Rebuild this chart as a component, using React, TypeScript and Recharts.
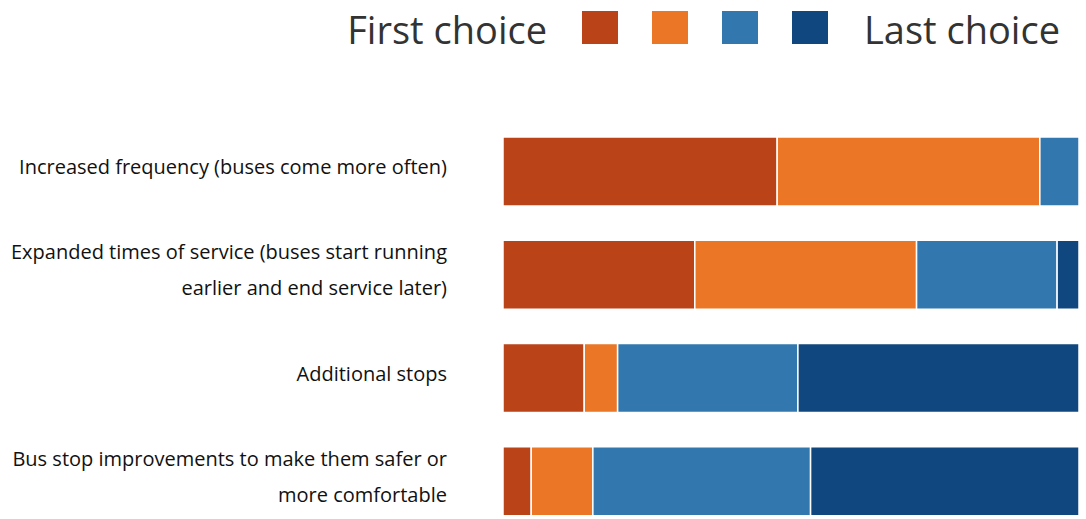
import React from "react";
import { BarChart, Bar, XAxis, YAxis, Legend } from "recharts";

const categories = [
  "Increased frequency (buses come more often)",
  "Expanded times of service (buses start running\nearlier and end service later)",
  "Additional stops",
  "Bus stop improvements to make them safer or\nmore comfortable",
];
const firstChoice = [47.6, 33.3, 14.1, 4.9];
const secondChoice = [45.6, 38.5, 5.8, 10.7];
const thirdChoice = [6.8, 24.4, 31.3, 37.8];
const lastChoice = [0, 3.8, 48.8, 46.6];

const seriesKeys = ["c1", "c2", "c3", "c4"];
const seriesColors = ["#BB4318", "#EA7626", "#3278AE", "#10477E"];
const legendStart = "First choice";
const legendEnd = "Last choice";

const data = categories.map((name, i) => ({
  name,
  c1: firstChoice[i],
  c2: secondChoice[i],
  c3: thirdChoice[i],
  c4: lastChoice[i],
}));

const FONT = "'Open Sans', 'Noto Sans', sans-serif";

const Tick = (props: any) => {
  const { x, y, payload } = props;
  const lines = String(payload.value).split("\n");
  const lh = 36;
  const start = -((lines.length - 1) * lh) / 2 - 5;
  return (
    <text
      x={x}
      y={y}
      textAnchor="end"
      fontFamily={FONT}
      fontSize={20}
      fill="#111"
    >
      {lines.map((l, i) => (
        <tspan key={i} x={x} y={y + start + i * lh} dominantBaseline="central">
          {l}
        </tspan>
      ))}
    </text>
  );
};

const LegendContent = () => (
  <div
    style={{
      height: 55,
      width: 1086,
      display: "flex",
      justifyContent: "flex-end",
      alignItems: "center",
      paddingRight: 26,
      boxSizing: "border-box",
      fontFamily: FONT,
      fontSize: 38,
      color: "#333",
    }}
  >
    <span style={{ marginRight: 35, lineHeight: "55px", position: "relative", top: 2 }}>{legendStart}</span>
    {seriesColors.map((c, i) => (
      <span
        key={i}
        style={{
          display: "inline-block",
          width: 36,
          height: 33,
          background: c,
          marginRight: i < seriesColors.length - 1 ? 34 : 36,
        }}
      />
    ))}
    <span style={{ lineHeight: "55px", position: "relative", top: 2 }}>{legendEnd}</span>
  </div>
);

export default function App() {
  return (
    <div
      style={{
        position: "absolute",
        left: 0,
        top: 0,
        width: 1086,
        height: 519,
        overflow: "hidden",
        background: "#fff",
      }}
    >
      <BarChart
        width={1086}
        height={540}
        data={data}
        layout="vertical"
        margin={{ top: 65, right: 7, bottom: 7, left: 0 }}
        barSize={69}
      >
        <XAxis type="number" domain={[0, 100]} hide />
        <YAxis
          type="category"
          dataKey="name"
          width={503}
          axisLine={false}
          tickLine={false}
          tickSize={0}
          tickMargin={56}
          tick={<Tick />}
          interval={0}
        />
        <Legend
          verticalAlign="top"
          align="right"
          content={<LegendContent />}
          wrapperStyle={{ top: 0, left: 0, width: 1086, height: 55 }}
        />
        {seriesKeys.map((k, i) => (
          <Bar
            key={k}
            dataKey={k}
            stackId="a"
            fill={seriesColors[i]}
            stroke="#fff"
            strokeWidth={1.5}
            isAnimationActive={false}
          />
        ))}
      </BarChart>
    </div>
  );
}
